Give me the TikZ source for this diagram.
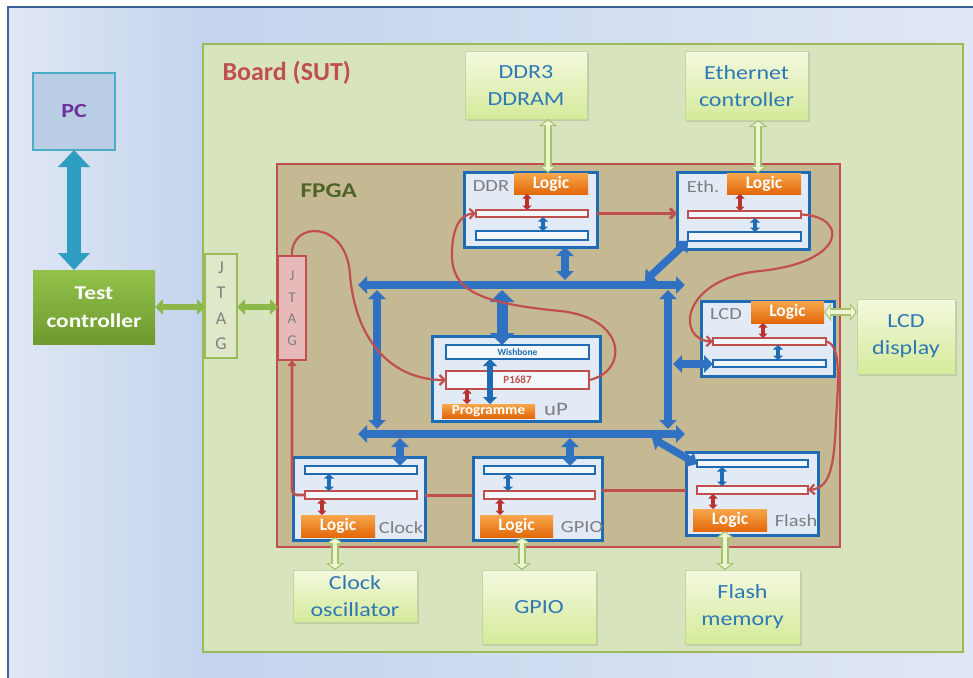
\documentclass[tikz,border=0pt]{standalone}
\usepackage{fontspec}
\setmainfont{Carlito}
\usetikzlibrary{arrows.meta,shadows}

\definecolor{bgA}{HTML}{E0E7F5}
\definecolor{bgB}{HTML}{C4D4ED}
\definecolor{frameln}{HTML}{3D6399}
\definecolor{boardfill}{HTML}{D8E4BD}
\definecolor{boardln}{HTML}{9BBB59}
\definecolor{fpgafill}{HTML}{C5B993}
\definecolor{redln}{HTML}{C0504D}
\definecolor{fpgatxt}{HTML}{4F6228}
\definecolor{blkfill}{HTML}{E2EAF6}
\definecolor{blkln}{HTML}{1F6CB5}
\definecolor{barfill}{HTML}{F4F7FB}
\definecolor{busblue}{HTML}{3171C1}
\definecolor{orgtop}{HTML}{F7A64C}
\definecolor{orgbot}{HTML}{E2680A}
\definecolor{labgray}{HTML}{7F7F7F}
\definecolor{peritop}{HTML}{F3F9DF}
\definecolor{peribot}{HTML}{D5EA9A}
\definecolor{periln}{HTML}{C3D69B}
\definecolor{peritxt}{HTML}{2E78B4}
\definecolor{pcfill}{HTML}{B9CDE5}
\definecolor{pcln}{HTML}{4BACC6}
\definecolor{pctxt}{HTML}{7030A0}
\definecolor{tealarr}{HTML}{2E9DC2}
\definecolor{tctop}{HTML}{93C24B}
\definecolor{tcbot}{HTML}{6E9A2E}
\definecolor{tcarr}{HTML}{8CB84A}
\definecolor{lgln}{HTML}{A6C26A}
\definecolor{lgfill}{HTML}{EDF6D3}
\definecolor{jtagbfill}{HTML}{DFE9C9}
\definecolor{jtagffill}{HTML}{E7BAB9}
\definecolor{dkred}{HTML}{B83230}

% horizontally widened text
\newcommand\hs[1]{\scalebox{1.2}[1]{#1}}
% box from corner (x1,y1) to corner (x2,y2): style, name, x1, y1, x2, y2, text
\newcommand\rbox[7]{%
  \node[#1, minimum width={(#5-#3)*1pt}, minimum height={(#6-#4)*1pt}]
    (#2) at ({(#3+#5)/2},{(#4+#6)/2}) {#7};}

\tikzset{
  base/.style={inner sep=0pt, outer sep=0pt},
  periph/.style={base, draw=periln, line width=1pt, top color=peritop,
    bottom color=peribot, text=peritxt, align=center,
    font=\fontsize{20}{27}\selectfont,
    drop shadow={opacity=0.25, shadow xshift=1.5pt, shadow yshift=-1.5pt}},
  block/.style={base, draw=blkln, line width=3pt, fill=blkfill},
  redbar/.style={base, draw=redln, line width=2.6pt, fill=barfill},
  bluebar/.style={base, draw=blkln, line width=2.8pt, fill=barfill},
  logicbox/.style={base, top color=orgtop, bottom color=orgbot, text=white,
    font=\bfseries\fontsize{17.5}{17.5}\selectfont},
  blklabel/.style={text=labgray, font=\fontsize{17}{17}\selectfont},
  jtagbox/.style={base, draw=boardln, line width=2pt, fill=jtagbfill,
    text=labgray, align=center, font=\fontsize{18}{25.5}\selectfont},
  jtagfbox/.style={base, draw=redln, line width=2pt, fill=jtagffill,
    text=labgray, align=center, font=\fontsize{15}{21.5}\selectfont},
  busarr/.style={draw=busblue, line width=7.5pt,
    {Triangle[width=17pt,length=9pt]}-{Triangle[width=17pt,length=9pt]}},
  wbarr/.style={draw=busblue, line width=11pt,
    {Triangle[width=24pt,length=12pt]}-{Triangle[width=24pt,length=12pt]}},
  sblue/.style={draw=blkln, line width=3.6pt,
    {Triangle[width=10pt,length=4.5pt]}-{Triangle[width=10pt,length=4.5pt]}},
  sred/.style={draw=dkred, line width=3.4pt,
    {Triangle[width=9pt,length=4.5pt]}-{Triangle[width=9pt,length=4.5pt]}},
  lgarrow/.style={draw=lgln, line width=8pt,
    {Triangle[width=18pt,length=7pt]}-{Triangle[width=18pt,length=7pt]},
    postaction={draw=lgfill, line width=4.5pt,
      {Triangle[width=12pt,length=4.5pt]}-{Triangle[width=12pt,length=4.5pt]},
      shorten <=1.6pt, shorten >=1.6pt}},
  tcarrow/.style={draw=tcarr, line width=6pt,
    {Triangle[width=15pt,length=8pt]}-{Triangle[width=15pt,length=8pt]}},
  pcarrow/.style={draw=tealarr, line width=14pt,
    {Triangle[width=31pt,length=17pt]}-{Triangle[width=31pt,length=17pt]}},
  chainln/.style={draw=redln, line width=2.2pt},
  chainthick/.style={draw=redln, line width=3pt},
  barb/.style={-{Straight Barb[length=5pt,width=10pt]}}
}

\begin{document}
\begin{tikzpicture}[x=1pt, y=-1pt]
\useasboundingbox (0,0) rectangle (973,677);
\clip (0,0) rectangle (973,677);

% page background and frame
\shade[left color=bgA, right color=bgB] (8,7) rectangle (205,677);
\shade[left color=bgB, middle color=bgB!70!bgA, right color=bgA] (204,7) rectangle (973,677);
\draw[frameln, line width=2pt] (8,690) -- (8,7) -- (980,7);

% board and FPGA
\rbox{base, draw=boardln, line width=2pt, fill=boardfill}{board}{203}{44}{963}{652}{}
\node[anchor=west, text=redln, font=\bfseries\fontsize{26}{26}\selectfont]
  (boardlab) at (219,73) {Board (SUT)};
\rbox{base, draw=redln, line width=2pt, fill=fpgafill}{fpga}{277}{164}{840}{547}{}
\node[anchor=west, text=fpgatxt, font=\bfseries\fontsize{21}{21}\selectfont]
  (fpgalab) at (297,191) {\hs{FPGA}};

% PC and test controller
\rbox{base, draw=pcln, line width=2pt, fill=pcfill, text=pctxt,
  font=\bfseries\fontsize{20}{20}\selectfont}{pc}{33}{73}{115}{150}{\hs{PC}}
\rbox{base, top color=tctop, bottom color=tcbot, text=white, align=center,
  font=\bfseries\fontsize{19.5}{28}\selectfont}{tc}{33}{270}{155}{344}%
  {\hs{Test}\\\hs{controller}}
\draw[pcarrow] (pc.south) -- (pc.south |- tc.north);

% JTAG ports
\rbox{jtagbox}{jtagb}{205}{254}{237}{358}{J\\T\\A\\G}
\rbox{jtagfbox}{jtagf}{278}{256}{306}{360}{J\\T\\A\\G}
\draw[tcarrow] (tc.east) -- (tc.east -| jtagb.west);
\draw[tcarrow] (jtagb.east |- tc.east) -- (tc.east -| jtagf.west);

% external devices
\rbox{periph}{ddr3}{465}{52}{587}{119}{\hs{DDR3}\\\hs{DDRAM}}
\rbox{periph}{ethc}{685}{52}{808}{120}{\hs{Ethernet}\\\hs{controller}}
\rbox{periph}{lcdd}{857}{299}{955}{374}{\hs{LCD}\\\hs{display}}
\rbox{periph}{clkosc}{293}{570}{417}{622}{\hs{Clock}\\\hs{oscillator}}
\rbox{periph}{gpiop}{482}{570}{596}{644}{\hs{GPIO}}
\rbox{periph}{flashm}{685}{570}{800}{644}{\hs{Flash}\\\hs{memory}}

% Wishbone bus ring
\coordinate (tl) at (358,285); \coordinate (tr) at (685,285);
\coordinate (bl) at (358,434); \coordinate (br) at (685,434);
\coordinate (lt) at (377,290); \coordinate (lb) at (377,429);
\coordinate (rt) at (668,290); \coordinate (rb) at (668,429);
\draw[busarr] (lt) -- (lb);
\draw[busarr] (rt) -- (rb);
\draw[busarr] (tl) -- (tr);
\draw[busarr] (bl) -- (br);

% FPGA blocks
\rbox{block}{ddrblk}{464}{172}{597}{247}{}
\rbox{block}{ethblk}{677}{172}{809}{249}{}
\rbox{block}{lcdblk}{701}{301}{834}{376}{}
\rbox{block}{upblk}{432}{336}{600}{421}{}
\rbox{block}{clkblk}{293}{457}{425}{540}{}
\rbox{block}{gpioblk}{473}{457}{602}{540}{}
\rbox{block}{flashblk}{686}{452}{818}{535}{}

% bus taps
\coordinate (tddr) at (565,280);
\coordinate (teth) at (645,281);
\coordinate (twb) at (502,290);
\coordinate (tlcd) at (673,364);
\coordinate (tclk) at (400,438);
\coordinate (tgpio) at (570,438);
\coordinate (tflash) at (652,438);
\draw[busarr] (565,0 |- ddrblk.south) -- (tddr);
\draw[busarr] (teth) -- (688,241);
\draw[wbarr] (twb) -- (502,345);
\draw[busarr] (tlcd) -- (713,364);
\draw[busarr] (tclk) -- (400,466);
\draw[busarr] (tgpio) -- (570,466);
\draw[busarr] (tflash) -- (697,464);

% block labels
\node[blklabel] (ddrlab) at (491,186) {\hs{DDR}};
\node[blklabel] (ethlab) at (703,187) {\hs{Eth.}};
\node[blklabel] (lcdlab) at (726,314) {\hs{LCD}};
\node[blklabel] (clklab) at (401,528) {\hs{Clock}};
\node[blklabel] (gpiolab) at (582,527) {\hs{GPIO}};
\node[blklabel] (flashlab) at (796,521) {\hs{Flash}};
\node[text=labgray, font=\fontsize{19}{19}\selectfont] (uplab) at (556,409) {\hs{uP}};

% logic parts
\rbox{logicbox}{ddrlog}{514}{173}{588}{194}{Logic}
\rbox{logicbox}{ethlog}{727}{173}{801}{194}{Logic}
\rbox{logicbox}{lcdlog}{751}{301}{824}{323}{Logic}
\rbox{logicbox}{clklog}{301}{515}{375}{537}{Logic}
\rbox{logicbox}{gpiolog}{480}{515}{553}{537}{Logic}
\rbox{logicbox}{flashlog}{693}{509}{767}{531}{Logic}
\rbox{logicbox, font=\bfseries\fontsize{14}{14}\selectfont}{prog}{442}{404}{535}{418}{\scalebox{1.08}[1]{Programme}}

% P1687 registers
\rbox{redbar}{ddrred}{476}{210}{588}{217}{}
\rbox{redbar}{ethred}{688}{211}{801}{218}{}
\rbox{redbar}{lcdred}{713}{338}{826}{345}{}
\rbox{redbar}{clkred}{305}{491}{417}{499}{}
\rbox{redbar}{gpiored}{484}{491}{595}{499}{}
\rbox{redbar}{flashred}{697}{486}{808}{494}{}
\rbox{redbar, text=redln, font=\bfseries\fontsize{11}{11}\selectfont}{p1687}{446}{371}{589}{389}{P1687}

% bus interfaces
\rbox{bluebar}{ddrblue}{476}{231}{588}{240}{}
\rbox{bluebar}{ethblue}{688}{232}{801}{241}{}
\rbox{bluebar}{lcdblue}{713}{360}{826}{367}{}
\rbox{bluebar}{clkblue}{305}{466}{417}{474}{}
\rbox{bluebar}{gpioblue}{484}{466}{595}{474}{}
\rbox{bluebar}{flashblue}{697}{460}{808}{467}{}
\rbox{bluebar, text=blkln, font=\bfseries\fontsize{9.5}{9.5}\selectfont}{wish}{446}{345}{589}{359}{Wishbone}

% links inside the blocks
\draw[sred] (527,0 |- ddrlog.south) -- (527,0 |- ddrred.north);
\draw[sblue] (543,0 |- ddrred.south) -- (543,0 |- ddrblue.north);
\draw[sred] (740,0 |- ethlog.south) -- (740,0 |- ethred.north);
\draw[sblue] (755,0 |- ethred.south) -- (755,0 |- ethblue.north);
\draw[sred] (763,0 |- lcdlog.south) -- (763,0 |- lcdred.north);
\draw[sblue] (778,0 |- lcdred.south) -- (778,0 |- lcdblue.north);
\draw[sblue] (329,0 |- clkblue.south) -- (329,0 |- clkred.north);
\draw[sred] (322,0 |- clkred.south) -- (322,0 |- clklog.north);
\draw[sblue] (508,0 |- gpioblue.south) -- (508,0 |- gpiored.north);
\draw[sred] (500,0 |- gpiored.south) -- (500,0 |- gpiolog.north);
\draw[sblue] (722,0 |- flashblue.south) -- (722,0 |- flashred.north);
\draw[sred] (713,0 |- flashred.south) -- (713,0 |- flashlog.north);
\draw[sred] (467,0 |- p1687.south) -- (467,0 |- prog.north);
\draw[draw=blkln, line width=6.5pt,
  {Triangle[width=14pt,length=7pt]}-{Triangle[width=14pt,length=7pt]}]
  (490,0 |- wish.south) -- (490,0 |- prog.north);

% P1687 scan chain
\draw[chainln, barb] (jtagf.north) .. controls (290,220) and (347,220) ..
  (350,275) .. controls (356,345) and (395,380) .. (p1687.west);
\draw[chainln, barb] (p1687.east) .. controls (628,372) and (628,318) ..
  (560,311) .. controls (478,303) and (452,290) .. (452,255)
  .. controls (452,228) and (460,214) .. (ddrred.west);
\draw[chainthick, barb] (ddrblk.east |- ddrred.east) -- (ddrred.east -| ethblk.west);
\draw[chainln, barb] (ethred.east) .. controls (848,216) and (848,262) ..
  (760,271) .. controls (680,279) and (676,340) .. (lcdred.west);
\draw[chainln, barb] (lcdred.east) .. controls (842,344) and (838,385) ..
  (836,420) .. controls (834,468) and (830,488) .. (flashred.east);
\draw[chainthick] (flashblk.west |- flashred.west) -- (flashred.west -| gpioblk.east);
\draw[chainthick] (gpioblk.west |- gpiored.west) -- (gpiored.west -| clkblk.east);
\draw[chainln, line width=2.6pt, rounded corners=5pt, -{Triangle[length=6pt,width=9pt]}]
  (clkred.west) -| (jtagf.south);

% links to the external devices
\draw[lgarrow] (548,0 |- ddr3.south) -- (548,0 |- ddrlog.north);
\draw[lgarrow] (758,0 |- ethc.south) -- (758,0 |- ethlog.north);
\draw[lgarrow] (lcdlog.east) -- (lcdlog.east -| lcdd.west);
\draw[lgarrow] (335,0 |- clklog.south) -- (335,0 |- clkosc.north);
\draw[lgarrow] (522,0 |- gpiolog.south) -- (522,0 |- gpiop.north);
\draw[lgarrow] (725,0 |- flashlog.south) -- (725,0 |- flashm.north);
\end{tikzpicture}
\end{document}
